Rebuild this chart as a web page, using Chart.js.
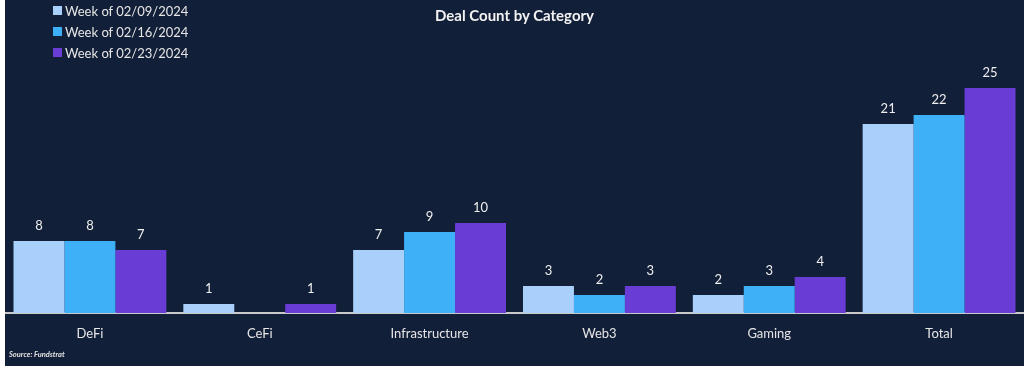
<!DOCTYPE html>
<html lang="en">
<head>
<meta charset="UTF-8" />
<title>Deal Count by Category</title>
<script src="https://cdn.jsdelivr.net/npm/chart.js"></script>
<style>
  body { margin: 0; background: #fff; width: 1024px; height: 376px; overflow: hidden; font-family: Lato, "Open Sans", sans-serif; }
  .panel { position: absolute; left: 5px; top: 0; width: 1019px; height: 366px; background: #121f38; }
  .chart-box { position: absolute; left: 0; top: 0; width: 1019px; height: 366px; }
  .title { position: absolute; left: 0; width: 1019px; top: 6px; text-align: center; color: #f2f2f2; font-weight: bold; font-size: 15px; }
  .legend { position: absolute; left: 48px; top: 0px; color: #e6e6e6; font-size: 13px; }
  .legend div { height: 21px; display: flex; align-items: center; }
  .legend span.sw { display: inline-block; width: 9px; height: 9px; margin-right: 3px; }
  .source { position: absolute; left: 4px; top: 350px; color: #e0e0e0; font-size: 7.5px; font-style: italic; font-weight: bold; }
</style>
</head>
<body>
  <div class="panel">
    <div class="chart-box"><canvas id="dealChart"></canvas></div>
    <div class="title">Deal Count by Category</div>
    <div class="legend" id="legend"></div>
    <div class="source">Source: Fundstrat</div>
  </div>

  <script>
    const categories = ['DeFi', 'CeFi', 'Infrastructure', 'Web3', 'Gaming', 'Total'];
    const weekLabels = ['Week of 02/09/2024', 'Week of 02/16/2024', 'Week of 02/23/2024'];
    const week0209 = [8, 1, 7, 3, 2, 21];
    const week0216 = [8, 0, 9, 2, 3, 22];
    const week0223 = [7, 1, 10, 3, 4, 25];
    const colors = ['#a8d0fa', '#3eb0f8', '#6a3cd6'];

    const seriesValues = [week0209, week0216, week0223];

    // legend built from the series
    const legendEl = document.getElementById('legend');
    weekLabels.forEach((lbl, i) => {
      const row = document.createElement('div');
      row.innerHTML = '<span class="sw" style="background:' + colors[i] + '"></span>' + lbl;
      legendEl.appendChild(row);
    });

    const valueLabels = {
      id: 'valueLabels',
      afterDatasetsDraw(chart) {
        const ctx = chart.ctx;
        ctx.save();
        ctx.fillStyle = '#eeeeee';
        ctx.font = '13px Lato, "Open Sans", sans-serif';
        ctx.textAlign = 'center';
        ctx.textBaseline = 'bottom';
        chart.data.datasets.forEach((ds, di) => {
          const meta = chart.getDatasetMeta(di);
          meta.data.forEach((bar, i) => {
            if (!ds.data[i]) return;
            ctx.fillText(ds.data[i], bar.x, bar.y - 9);
          });
        });
        ctx.restore();
      }
    };

    new Chart(document.getElementById('dealChart'), {
      type: 'bar',
      data: {
        labels: categories,
        datasets: seriesValues.map((vals, i) => ({
          label: weekLabels[i],
          data: vals,
          backgroundColor: colors[i],
          categoryPercentage: 0.9,
          barPercentage: 1.0
        }))
      },
      options: {
        responsive: true,
        maintainAspectRatio: false,
        animation: false,
        layout: { padding: { top: 43, left: 0, right: 0, bottom: 0 } },
        plugins: { legend: { display: false }, tooltip: { enabled: false } },
        scales: {
          x: {
            grid: { display: false, drawTicks: false },
            border: { display: true, color: '#c9c9c9', width: 2 },
            ticks: { color: '#e6e6e6', font: { size: 13, family: 'Lato, "Open Sans", sans-serif' }, padding: 13 },
            afterFit(scale) { scale.height = 53; }
          },
          y: {
            display: false,
            min: 0,
            max: 30
          }
        }
      },
      plugins: [valueLabels]
    });
  </script>
</body>
</html>
